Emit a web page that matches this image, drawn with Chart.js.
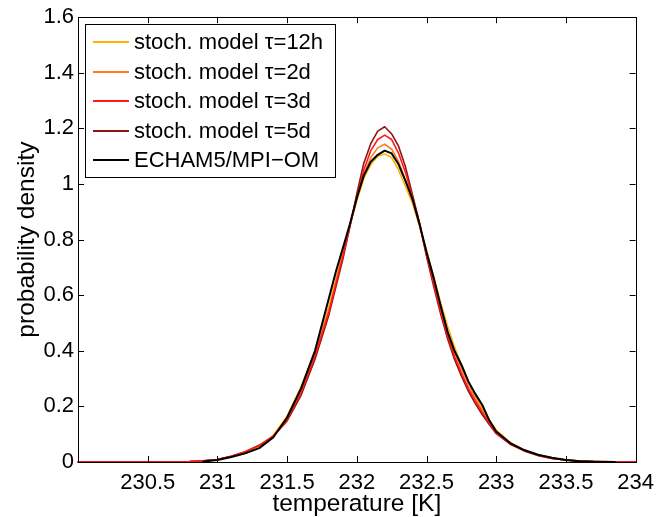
<!DOCTYPE html>
<html>
<head>
<meta charset="utf-8">
<script src="https://cdn.jsdelivr.net/npm/chart.js@4/dist/chart.umd.min.js"></script>
<style>
  html, body { margin: 0; padding: 0; background: #fff; }
  #wrap { width: 662px; height: 517px; }
</style>
</head>
<body>
<div id="wrap"><canvas id="pdfChart"></canvas></div>
<script>
// temperature grid [K]
const temps = [230.0, 230.2, 230.4, 230.6, 230.8, 230.9, 231.0, 231.1, 231.2, 231.3,
    231.4, 231.5, 231.6, 231.7, 231.8, 231.85, 231.9, 231.95, 232.0, 232.05,
    232.1, 232.15, 232.2, 232.25, 232.3, 232.35, 232.4, 232.45, 232.5, 232.55,
    232.6, 232.65, 232.7, 232.75, 232.8, 232.85, 232.9, 232.95, 233.0, 233.1,
    233.2, 233.3, 233.4, 233.5, 233.6, 233.7, 233.85, 234.0];

// probability densities
const tau12h = [0, 0, 0, 0.0005, 0.002, 0.004, 0.009, 0.02, 0.035, 0.057,
    0.095, 0.165, 0.27, 0.40, 0.56, 0.66, 0.755, 0.85, 0.94, 1.02,
    1.07, 1.10, 1.108, 1.095, 1.05, 0.99, 0.93, 0.85, 0.76, 0.67,
    0.575, 0.49, 0.415, 0.35, 0.29, 0.24, 0.195, 0.15, 0.115, 0.07,
    0.043, 0.025, 0.014, 0.007, 0.003, 0.0015, 0.0005, 0];
const tau2d = [0, 0, 0, 0.0005, 0.002, 0.004, 0.009, 0.021, 0.036, 0.058,
    0.093, 0.158, 0.26, 0.39, 0.55, 0.65, 0.75, 0.85, 0.945, 1.035,
    1.095, 1.13, 1.143, 1.125, 1.08, 1.01, 0.935, 0.85, 0.75, 0.655,
    0.56, 0.47, 0.395, 0.335, 0.28, 0.23, 0.185, 0.145, 0.11, 0.068,
    0.042, 0.025, 0.014, 0.007, 0.003, 0.0015, 0.0005, 0];
const tau3d = [0, 0, 0, 0.0005, 0.002, 0.004, 0.009, 0.021, 0.037, 0.06,
    0.093, 0.152, 0.25, 0.38, 0.54, 0.64, 0.74, 0.85, 0.955, 1.05,
    1.12, 1.16, 1.176, 1.16, 1.11, 1.04, 0.95, 0.855, 0.745, 0.645,
    0.545, 0.455, 0.38, 0.32, 0.265, 0.22, 0.178, 0.14, 0.105, 0.066,
    0.041, 0.024, 0.013, 0.007, 0.003, 0.0015, 0.0005, 0];
const tau5d = [0, 0, 0, 0.0005, 0.002, 0.004, 0.009, 0.021, 0.037, 0.06,
    0.092, 0.148, 0.24, 0.37, 0.53, 0.63, 0.73, 0.845, 0.965, 1.075,
    1.145, 1.19, 1.206, 1.18, 1.135, 1.06, 0.96, 0.86, 0.74, 0.635,
    0.535, 0.445, 0.37, 0.31, 0.255, 0.21, 0.17, 0.135, 0.102, 0.064,
    0.04, 0.023, 0.013, 0.007, 0.003, 0.0015, 0.0005, 0];
const echam = [null, null, null, null, null, 0.002, 0.007, 0.018, 0.031, 0.05,
    0.088, 0.16, 0.265, 0.40, 0.59, 0.685, 0.77, 0.855, 0.95, 1.03,
    1.08, 1.105, 1.12, 1.11, 1.07, 1.01, 0.945, 0.855, 0.755, 0.665,
    0.565, 0.47, 0.40, 0.35, 0.29, 0.245, 0.205, 0.15, 0.11, 0.068,
    0.043, 0.026, 0.015, 0.007, 0.003, 0.001, 0, null];

const seriesNames = ['stoch. model \u03c4=12h', 'stoch. model \u03c4=2d',
    'stoch. model \u03c4=3d', 'stoch. model \u03c4=5d', 'ECHAM5/MPI\u2212OM'];

const xTicks = [230, 230.5, 231, 231.5, 232, 232.5, 233, 233.5, 234];
const xTickLabels = ['', '230.5', '231', '231.5', '232', '232.5', '233', '233.5', '234'];
const yTicks = [0, 0.2, 0.4, 0.6, 0.8, 1, 1.2, 1.4, 1.6];
const yTickLabels = ['0', '0.2', '0.4', '0.6', '0.8', '1', '1.2', '1.4', '1.6'];

const FONT = 'Liberation Sans, Arial, Helvetica, sans-serif';

function toPoints(ys) {
    return temps.map((t, i) => ({ x: t, y: ys[i] }));
}

// box around the axes with inward ticks on all four sides
const frameTicks = {
    id: 'frameTicks',
    afterDatasetsDraw(chart) {
        const { ctx, chartArea: a, scales } = chart;
        ctx.save();
        ctx.strokeStyle = '#000';
        ctx.lineWidth = 1;
        const len = 6;
        ctx.beginPath();
        xTicks.forEach(v => {
            const px = Math.round(scales.x.getPixelForValue(v)) + 0.5;
            ctx.moveTo(px, a.bottom); ctx.lineTo(px, a.bottom - len);
            ctx.moveTo(px, a.top); ctx.lineTo(px, a.top + len);
        });
        yTicks.forEach(v => {
            const py = Math.round(scales.y.getPixelForValue(v)) + 0.5;
            ctx.moveTo(a.left, py); ctx.lineTo(a.left + len, py);
            ctx.moveTo(a.right, py); ctx.lineTo(a.right - len, py);
        });
        ctx.stroke();
        ctx.strokeRect(Math.round(a.left) + 0.5, Math.round(a.top) + 0.5,
            Math.round(a.right - a.left), Math.round(a.bottom - a.top));
        ctx.restore();
    }
};

// MATLAB style legend box in the upper left corner
const boxLegend = {
    id: 'boxLegend',
    afterDraw(chart) {
        const { ctx, chartArea: a } = chart;
        const left = Math.round(a.left + 7), top = Math.round(a.top + 7);
        const w = 250, h = 153, rowH = 29.5;
        ctx.save();
        ctx.fillStyle = '#fff';
        ctx.fillRect(left, top, w, h);
        ctx.strokeStyle = '#000';
        ctx.lineWidth = 1;
        ctx.strokeRect(left + 0.5, top + 0.5, w, h);
        ctx.font = '22px ' + FONT;
        ctx.textBaseline = 'middle';
        ctx.fillStyle = '#000';
        seriesNames.forEach((name, i) => {
            const ds = chart.data.datasets.find(d => d.label === name);
            const y = Math.round(top + 18 + i * rowH);
            ctx.strokeStyle = ds.borderColor;
            ctx.lineWidth = 2;
            ctx.beginPath();
            ctx.moveTo(left + 8, y);
            ctx.lineTo(left + 44, y);
            ctx.stroke();
            ctx.fillText(ds.label, left + 49, y + 1);
        });
        ctx.restore();
    }
};

const ctx = document.getElementById('pdfChart').getContext('2d');
const chart = new Chart(ctx, {
    type: 'line',
    data: {
        datasets: [
            { label: seriesNames[4], data: toPoints(echam), borderColor: '#000000', borderWidth: 2, order: 0 },
            { label: seriesNames[2], data: toPoints(tau3d), borderColor: '#ff1a1a', borderWidth: 1.6, order: 1 },
            { label: seriesNames[3], data: toPoints(tau5d), borderColor: '#8c1515', borderWidth: 1.6, order: 2 },
            { label: seriesNames[1], data: toPoints(tau2d), borderColor: '#ff7f1e', borderWidth: 1.6, order: 3 },
            { label: seriesNames[0], data: toPoints(tau12h), borderColor: '#ffb300', borderWidth: 1.6, order: 4 }
        ]
    },
    options: {
        responsive: true,
        maintainAspectRatio: false,
        animation: false,
        layout: { padding: { top: 15, right: 17, bottom: 0, left: 0 } },
        elements: {
            point: { radius: 0 },
            line: { tension: 0, fill: false, borderCapStyle: 'round', borderJoinStyle: 'round' }
        },
        datasets: { line: { clip: 3, spanGaps: false } },
        scales: {
            x: {
                type: 'linear',
                min: 230, max: 234,
                afterBuildTicks: s => { s.ticks = xTicks.map(v => ({ value: v })); },
                afterFit: s => { s.height = 55; },
                grid: { display: false, drawTicks: false },
                border: { display: false },
                ticks: {
                    color: '#000',
                    padding: 8,
                    maxRotation: 0,
                    autoSkip: false,
                    font: { family: FONT, size: 22 },
                    callback: v => xTickLabels[xTicks.indexOf(v)]
                },
                title: {
                    display: true,
                    text: 'temperature [K]',
                    color: '#000',
                    font: { family: FONT, size: 24.5, lineHeight: 1 },
                    padding: { top: 0, bottom: 1 }
                }
            },
            y: {
                min: 0, max: 1.6,
                afterBuildTicks: s => { s.ticks = yTicks.map(v => ({ value: v })); },
                afterFit: s => { s.width = 78; },
                grid: { display: false, drawTicks: false },
                border: { display: false },
                ticks: {
                    color: '#000',
                    padding: 4,
                    font: { family: FONT, size: 22 },
                    callback: v => yTickLabels[yTicks.indexOf(v)]
                },
                title: {
                    display: true,
                    text: 'probability density',
                    color: '#000',
                    font: { family: FONT, size: 24.5, lineHeight: 1 },
                    padding: { top: 15, bottom: 0 }
                }
            }
        },
        plugins: {
            legend: { display: false },
            tooltip: { enabled: false }
        }
    },
    plugins: [frameTicks, boxLegend]
});
</script>
</body>
</html>
